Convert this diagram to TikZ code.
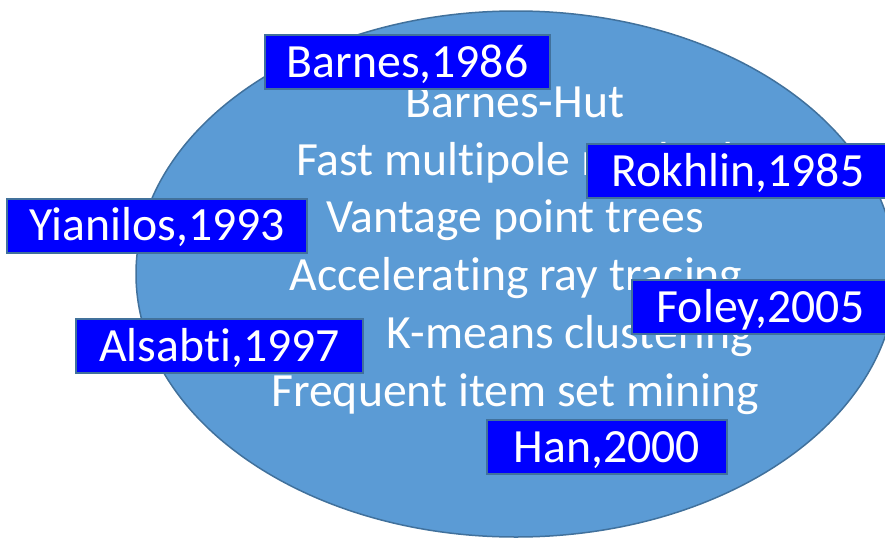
\documentclass[tikz,border=0pt]{standalone}
\usepackage{fontspec}
\setmainfont{Carlito}[Ligatures=NoCommon]
\usetikzlibrary{shapes.geometric}
\definecolor{ovalfill}{HTML}{5B9BD5}
\definecolor{ovaledge}{HTML}{41719C}
\definecolor{tagfill}{HTML}{0000FF}
\tikzset{
  topic/.style={anchor=base, text=white, font=\fontsize{47.7}{57}\selectfont, inner sep=0pt},
  tag/.style={draw=ovaledge, line width=2pt, fill=tagfill, text=white,
    font=\fontsize{47.7}{57}\selectfont, text height=30.5pt, text depth=0pt,
    minimum height=54pt, inner sep=0pt, align=center},
}
\begin{document}
\begin{tikzpicture}[x=1pt,y=-1pt]
  \useasboundingbox (0,0) rectangle (885,538);
  \clip (0,0) rectangle (885,538);
  % the oval
  \node[draw=ovaledge, line width=1.5pt, fill=ovalfill, ellipse, minimum width=760pt,
        minimum height=526pt, inner sep=0pt] (oval) at (516,274) {};
  % methods listed inside the oval
  \node[topic] (bh)  at (515,117) {Barnes-Hut};
  \node[topic] (fmm) at (515,175) {Fast multipole method};
  \node[topic] (vpt) at (515,232) {Vantage point trees};
  \node[topic] (art) at (516,290) {Accelerating ray tracing};
  \node[topic] (km)  at (570,348) {K-means clustering};
  \node[topic] (fim) at (515,406) {Frequent item set mining};
  % author tags
  \node[tag, minimum width=285pt] (barnes)   at (407.5,62)  {Barnes,1986};
  \node[tag, minimum width=302pt] (rokhlin)  at (738,171)   {Rokhlin,1985};
  \node[tag, minimum width=300pt] (yianilos) at (157,225.5) {Yianilos,1993};
  \node[tag, minimum width=287pt] (alsabti)  at (219.5,346) {Alsabti,1997};
  \node[tag, minimum width=257pt] (foley)    at (760.5,307) {Foley,2005};
  \node[tag, minimum width=240pt] (han)      at (607,447)   {Han,2000};
\end{tikzpicture}
\end{document}
